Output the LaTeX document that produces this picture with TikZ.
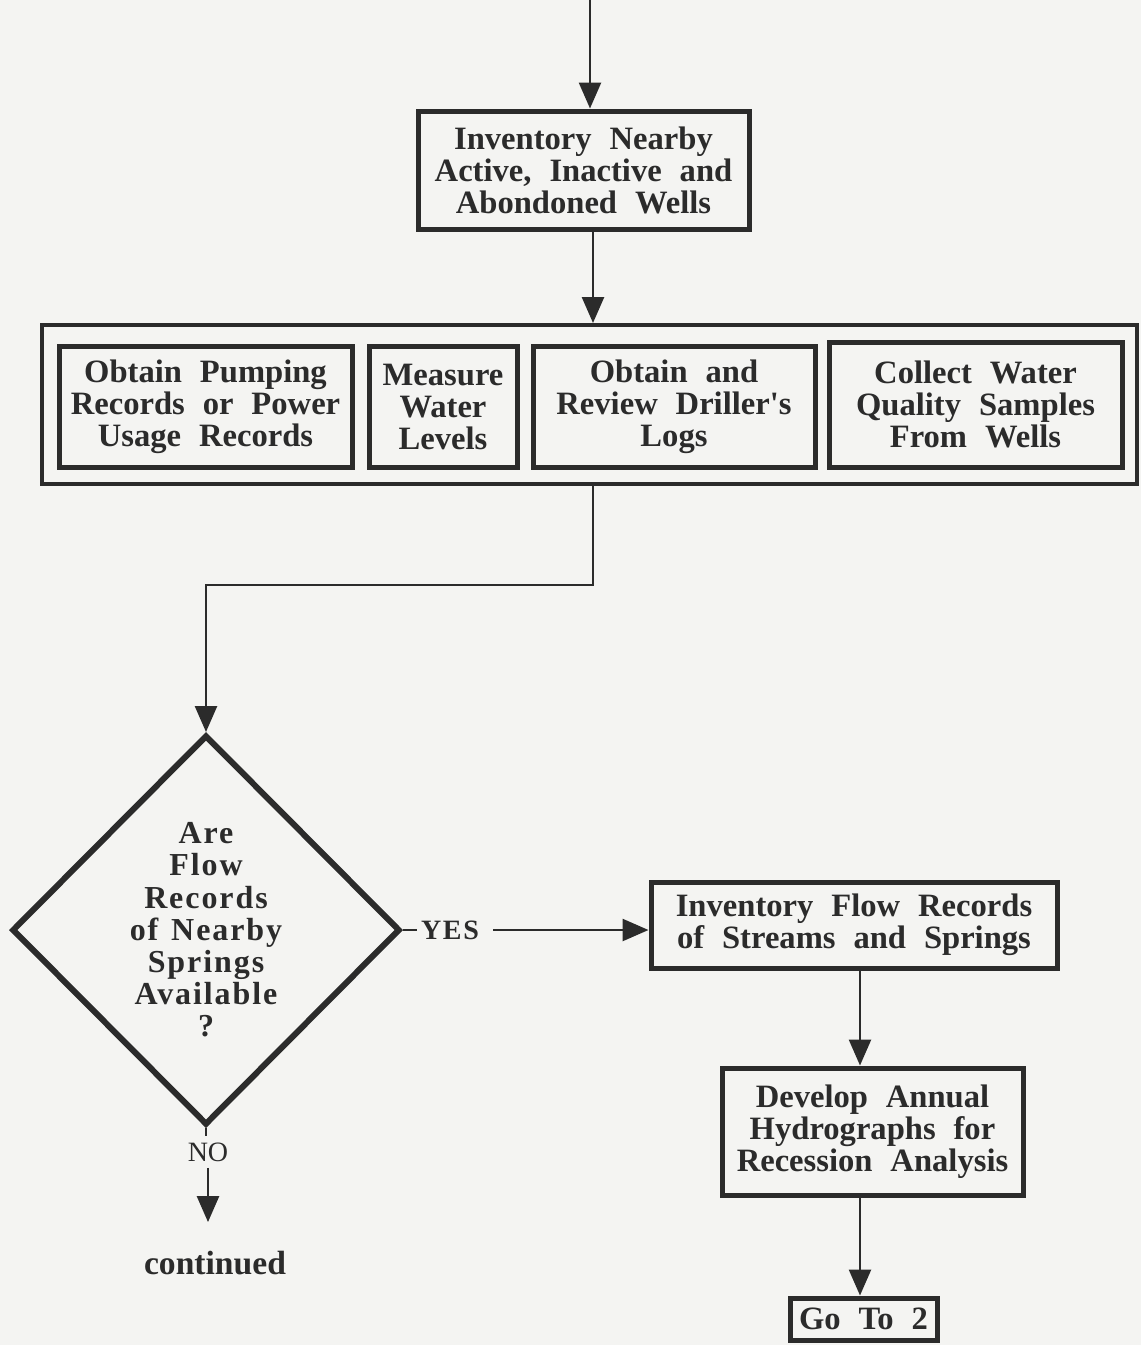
\documentclass[tikz,border=0pt]{standalone}
\usepackage{fontspec}
\setmainfont{Liberation Serif}[WordSpace=2.2]
\newfontfamily\spacedfont{Liberation Serif}[LetterSpace=6,WordSpace=1.3]
\usetikzlibrary{shapes.geometric,arrows.meta}
\definecolor{ink}{HTML}{2B2B2B}
\definecolor{paper}{HTML}{F4F4F2}
\begin{document}
\begin{tikzpicture}[x=0.5pt,y=-0.5pt,
  txt/.style={font=\fontsize{16.3}{16}\selectfont\bfseries, text=ink, align=center},
  box/.style={txt, draw=ink, line width=2.5pt, fill=paper, inner sep=0pt},
  groupbox/.style={draw=ink, line width=2pt, fill=paper, inner sep=0pt},
  conn/.style={draw=ink, line width=1.3pt},
  arr/.style={conn, -{Triangle[width=11pt,length=13pt]}},
  lbl/.style={text=ink, inner sep=3pt}]
  % page
  \fill[paper] (0,0) rectangle (1141,1345);
  \useasboundingbox (0,0) rectangle (1141,1345);

  % first step
  \coordinate (in) at (590,0);
  \node[box, minimum width=165.5pt, minimum height=59pt] (inv) at (583.5,170)
    {Inventory Nearby\\Active, Inactive and\\Abondoned Wells};
  \draw[arr] (in) -- (in |- inv.north);

  % group of well tasks
  \node[groupbox, minimum width=547.5pt, minimum height=79.5pt] (grp) at (589.5,404.5) {};
  \node[box, minimum width=146.5pt, minimum height=60.5pt] (pump) at (205.5,406.5)
    {Obtain Pumping\\Records or Power\\Usage Records};
  \node[box, minimum width=74pt, minimum height=60.5pt] (lvl) at (443,406.5)
    {Measure\\Water\\Levels};
  \node[box, minimum width=141pt, minimum height=60.5pt] (logs) at (674,406.5)
    {Obtain and\\Review Driller\textquotesingle s\\Logs};
  \node[box, minimum width=146.5pt, minimum height=62.5pt] (wq) at (975.5,404.5)
    {Collect Water\\Quality Samples\\From Wells};
  \coordinate (g1) at (593,585);
  \draw[arr] (inv.south -| g1) -- (grp.north -| g1);

  % decision
  \node[diamond, draw=ink, line width=3pt, fill=paper, aspect=1, inner sep=0pt,
        minimum width=194pt, minimum height=195pt] (q) at (206,930) {};
  \node[txt, font=\fontsize{16}{16.1}\selectfont\bfseries\spacedfont] (qt) at (q.center)
    {Are\\Flow\\Records\\of Nearby\\Springs\\Available\\?};
  \draw[arr] (grp.south -| g1) -- (g1) -- (g1 -| q.north) -- (q.north);

  % yes branch
  \node[lbl, font=\fontsize{14}{14}\selectfont\bfseries\spacedfont, inner xsep=2pt] (yes) at (450,930) {YES};
  \node[box, minimum width=203pt, minimum height=43pt] (flow) at (854,925)
    {Inventory Flow Records\\of Streams and Springs};
  \draw[conn] (q.east) -- (yes.west);
  \draw[arr] ([xshift=5pt]yes.east) -- (yes.east -| flow.west);

  \coordinate (vx) at (860,1020);
  \node[box, minimum width=150.5pt, minimum height=63.5pt] (hyd) at (872.5,1131.5)
    {Develop Annual\\Hydrographs for\\Recession Analysis};
  \draw[arr] (flow.south -| vx) -- (hyd.north -| vx);
  \node[box, minimum width=73.5pt, minimum height=21pt] (goto) at (863.5,1319) {Go To 2};
  \draw[arr] (hyd.south -| vx) -- (goto.north -| vx);

  % no branch
  \node[lbl, font=\fontsize{14}{14}\selectfont] (no) at (208,1152) {NO};
  \node[txt, font=\fontsize{16.8}{16}\selectfont\bfseries] (cont) at (215,1263) {continued};
  \draw[conn] (q.south) -- (q.south |- no.north);
  \draw[arr, shorten >=11pt] (no.south) -- (no.south |- cont.north);
\end{tikzpicture}
\end{document}
